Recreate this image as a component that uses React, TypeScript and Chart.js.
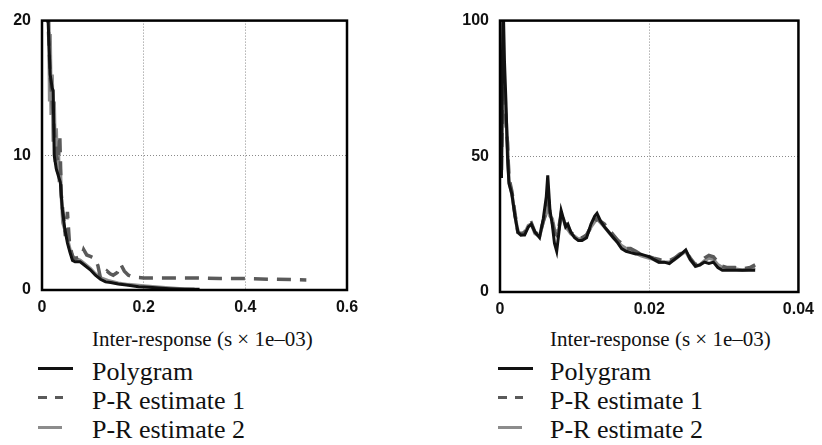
import React, { useEffect, useRef } from "react";
import { Chart, registerables } from "chart.js";

Chart.register(...registerables);

// ---------- Left panel data ----------
const LEFT_X_TICKS = [0, 0.2, 0.4, 0.6];
const LEFT_Y_TICKS = [0, 10, 20];

const LEFT_POLY_X = [0.009, 0.012, 0.016, 0.02, 0.022, 0.024, 0.028, 0.032, 0.036, 0.04, 0.045, 0.05, 0.055, 0.06, 0.065, 0.075, 0.085, 0.095, 0.105, 0.115, 0.125, 0.135, 0.15, 0.17, 0.19, 0.21, 0.23, 0.25, 0.28, 0.31];
const LEFT_POLY_Y = [24, 20, 16, 15, 14.8, 10, 9, 8.5, 8, 6, 4.5, 3.5, 2.8, 2.2, 2.1, 2.1, 1.8, 1.5, 1.1, 0.8, 0.6, 0.55, 0.45, 0.35, 0.25, 0.2, 0.15, 0.1, 0.05, 0.05];

const LEFT_PR1_X = [0.008, 0.012, 0.016, 0.02, 0.024, 0.028, 0.032, 0.035, 0.038, 0.042, 0.046, 0.05, 0.054, 0.058, 0.062, 0.07, 0.078, 0.082, 0.088, 0.095, 0.105, 0.11, 0.115, 0.122, 0.128, 0.134, 0.14, 0.148, 0.155, 0.162, 0.17, 0.18, 0.2, 0.25, 0.3, 0.35, 0.4, 0.45, 0.52];
const LEFT_PR1_Y = [26, 20, 16, 14, 12, 10, 9.5, 11.5, 7, 5.5, 4, 5.8, 3.5, 2.8, 2.3, 2.4, 2.5, 3, 2.6, 2.5, 2.3, 1.8, 0.9, 1.1, 1.4, 1.2, 1.1, 1.3, 1.9, 1.4, 1.1, 0.95, 0.9, 0.9, 0.9, 0.85, 0.85, 0.8, 0.75];

const LEFT_PR2_X = [0.01, 0.012, 0.013, 0.015, 0.016, 0.018, 0.02, 0.022, 0.024, 0.026, 0.028, 0.03, 0.032, 0.034, 0.036, 0.038, 0.041, 0.045, 0.05, 0.055, 0.06, 0.067, 0.075, 0.085, 0.095, 0.105, 0.115, 0.13, 0.15, 0.17, 0.2, 0.23, 0.27, 0.3];
const LEFT_PR2_Y = [25, 20, 22, 14, 19, 13, 16, 11, 14, 9.5, 12, 8.8, 10.5, 8, 9, 7, 5, 4.5, 3.8, 3, 2.5, 2.3, 2.2, 1.9, 1.6, 1.2, 0.9, 0.7, 0.5, 0.4, 0.3, 0.2, 0.1, 0.05];

// ---------- Right panel data ----------
const RIGHT_X_TICKS = [0, 0.02, 0.04];
const RIGHT_Y_TICKS = [0, 50, 100];

const RIGHT_X = [0.0002, 0.0004, 0.0006, 0.0008, 0.001, 0.0012, 0.0016, 0.002, 0.0024, 0.0028, 0.0033, 0.0038, 0.0042, 0.0047, 0.0053, 0.0058, 0.0062, 0.0064, 0.0067, 0.007, 0.0073, 0.0076, 0.0079, 0.0082, 0.0085, 0.0088, 0.0091, 0.0095, 0.01, 0.0105, 0.011, 0.0116, 0.0122, 0.0127, 0.013, 0.0135, 0.014, 0.0146, 0.0152, 0.0158, 0.0163, 0.0169, 0.0175, 0.0182, 0.0188, 0.0194, 0.02, 0.0206, 0.0213, 0.022, 0.0227, 0.0234, 0.0241, 0.0249, 0.0255, 0.0262, 0.0268, 0.0274, 0.028, 0.0286, 0.0292, 0.0298, 0.0305, 0.0315, 0.0325, 0.0335, 0.0342];
const RIGHT_POLY_Y = [42, 110, 85, 70, 50, 40, 36, 28, 22, 21, 21, 24, 25, 22, 20, 27, 35, 43, 30, 25, 18, 15, 22, 30, 27, 24, 25, 22, 20, 19, 19, 20, 25, 28, 29, 26, 24, 22, 20, 18, 16, 15, 14.5, 14, 14, 13.5, 13, 12, 11, 11, 10.5, 12, 13.5, 15.5, 12, 9.5, 10, 11, 10.5, 11, 9, 8, 8, 8, 8, 8, 8];
const RIGHT_PR1_Y = [45, 85, 75, 62, 55, 42, 37, 29, 22, 21.5, 22, 25, 25.5, 22, 21, 26, 30, 37, 28, 26, 22, 21, 24, 29, 27, 25, 24, 22, 21, 20, 20, 21, 24, 26, 27, 26, 25, 23, 21, 19, 18, 16, 16, 15, 14, 13, 13, 12.5, 12, 11.5, 11.5, 12.5, 14, 15, 12.5, 10, 11, 12.5, 13.5, 13, 11, 9.5, 9, 9, 8.5, 9, 10];
const RIGHT_PR2_Y = [50, 80, 72, 65, 55, 41, 36, 28.5, 22, 21, 21.5, 24.5, 25, 21.5, 20.5, 26, 29, 36, 28, 27, 23, 22, 23, 28, 27, 24, 23, 21.5, 20.5, 19.5, 19.5, 21, 24, 26, 27, 25.5, 24, 22, 20, 18.5, 17, 16, 15.5, 14.5, 13.5, 13, 12.5, 12, 11, 11, 11, 12, 13.5, 15, 12, 9.5, 10, 11.5, 12.5, 12, 10, 9, 8.5, 8.5, 8, 8.5, 9];

const SERIES_NAMES = ["Polygram", "P-R estimate 1", "P-R estimate 2"];
const AXIS_TITLE = "Inter-response (s \u00d7 1e\u201303)";

const COLOR_POLY = "#111111";
const COLOR_PR1 = "#5a5a5a";
const COLOR_PR2 = "#8c8c8c";

const pts = (xs: number[], ys: number[]) => xs.map((x, i) => ({ x, y: ys[i] }));

const boxPlugin = {
  id: "boxBorder",
  afterDraw(chart: any) {
    const { ctx, chartArea } = chart;
    ctx.save();
    ctx.strokeStyle = "#000";
    ctx.lineWidth = 2.5;
    ctx.strokeRect(chartArea.left, chartArea.top, chartArea.right - chartArea.left, chartArea.bottom - chartArea.top);
    ctx.restore();
  },
};

type PanelProps = {
  left: number;
  width: number;
  height: number;
  yWidth: number;
  xHeight: number;
  padRight: number;
  xTicks: number[];
  yTicks: number[];
  datasets: any[];
};

function Panel(p: PanelProps) {
  const ref = useRef<HTMLCanvasElement | null>(null);
  useEffect(() => {
    if (!ref.current) return;
    const xMin = p.xTicks[0], xMax = p.xTicks[p.xTicks.length - 1];
    const yMin = p.yTicks[0], yMax = p.yTicks[p.yTicks.length - 1];
    const tickFont = { family: "'Liberation Sans', Arial, sans-serif", size: 16, weight: "bold" as const };
    const gridColor = (lo: number, hi: number) => (c: any) =>
      c.tick && (c.tick.value === lo || c.tick.value === hi) ? "rgba(0,0,0,0)" : "#8a8a8a";
    const chart = new Chart(ref.current, {
      type: "line",
      data: { datasets: p.datasets },
      options: {
        animation: false,
        responsive: false,
        maintainAspectRatio: false,
        layout: { padding: { left: 0, top: 16, right: p.padRight, bottom: 0 } },
        plugins: { legend: { display: false }, tooltip: { enabled: false } },
        elements: { point: { radius: 0 }, line: { tension: 0 } },
        scales: {
          x: {
            type: "linear",
            min: xMin,
            max: xMax,
            afterBuildTicks: (s: any) => { s.ticks = p.xTicks.map((v) => ({ value: v })); },
            afterFit: (s: any) => { s.height = p.xHeight; },
            ticks: { font: tickFont, color: "#111", padding: 8, maxRotation: 0 },
            grid: { drawTicks: false, color: gridColor(xMin, xMax), lineWidth: 1 },
            border: { display: false, dash: [1, 2] },
          },
          y: {
            type: "linear",
            min: yMin,
            max: yMax,
            afterBuildTicks: (s: any) => { s.ticks = p.yTicks.map((v) => ({ value: v })); },
            afterFit: (s: any) => { s.width = p.yWidth; },
            ticks: { font: tickFont, color: "#111", padding: 11 },
            grid: { drawTicks: false, color: gridColor(yMin, yMax), lineWidth: 1 },
            border: { display: false, dash: [1, 2] },
          },
        },
      },
      plugins: [boxPlugin],
    });
    return () => chart.destroy();
  }, []);
  return (
    <canvas
      ref={ref}
      width={p.width}
      height={p.height}
      style={{ position: "absolute", left: p.left, top: 0, width: p.width, height: p.height }}
    />
  );
}

function makeDatasets(polyX: number[], polyY: number[], pr1X: number[], pr1Y: number[], pr2X: number[], pr2Y: number[]) {
  return [
    { label: SERIES_NAMES[0], data: pts(polyX, polyY), borderColor: COLOR_POLY, borderWidth: 3, order: 0, fill: false },
    { label: SERIES_NAMES[1], data: pts(pr1X, pr1Y), borderColor: COLOR_PR1, borderWidth: 3.5, borderDash: [14, 9], order: 1, fill: false },
    { label: SERIES_NAMES[2], data: pts(pr2X, pr2Y), borderColor: COLOR_PR2, borderWidth: 3.5, order: 2, fill: false },
  ];
}

function Legend({ textLeft, sampleLeft }: { textLeft: number; sampleLeft: number }) {
  const textStyle: React.CSSProperties = {
    position: "absolute",
    left: textLeft,
    fontFamily: "'Liberation Serif', 'Times New Roman', serif",
    fontSize: 26,
    lineHeight: "29px",
    color: "#111",
    whiteSpace: "nowrap",
  };
  const bar = (l: number, t: number, w: number, c: string) => (
    <div style={{ position: "absolute", left: l, top: t, width: w, height: 3, background: c }} />
  );
  return (
    <>
      <div
        style={{
          position: "absolute",
          left: textLeft,
          top: 329,
          fontFamily: "'Liberation Serif', 'Times New Roman', serif",
          fontSize: 21,
          lineHeight: "21px",
          color: "#111",
          whiteSpace: "nowrap",
        }}
      >
        {AXIS_TITLE}
      </div>
      <div style={{ ...textStyle, top: 357 }}>{SERIES_NAMES[0]}</div>
      <div style={{ ...textStyle, top: 386 }}>{SERIES_NAMES[1]}</div>
      <div style={{ ...textStyle, top: 415 }}>{SERIES_NAMES[2]}</div>
      {bar(sampleLeft, 367, 35, COLOR_POLY)}
      {bar(sampleLeft, 396, 9, COLOR_PR1)}
      {bar(sampleLeft + 17, 396, 8, COLOR_PR1)}
      {bar(sampleLeft, 426, 24, COLOR_PR2)}
    </>
  );
}

export default function App() {
  const leftSets = makeDatasets(LEFT_POLY_X, LEFT_POLY_Y, LEFT_PR1_X, LEFT_PR1_Y, LEFT_PR2_X, LEFT_PR2_Y);
  const rightSets = makeDatasets(RIGHT_X, RIGHT_POLY_Y, RIGHT_X, RIGHT_PR1_Y, RIGHT_X, RIGHT_PR2_Y);
  return (
    <div style={{ position: "fixed", left: 0, top: 0, width: 822, height: 445, background: "#fff", overflow: "hidden" }}>
      <Panel left={0} width={411} height={320} yWidth={42} xHeight={30} padRight={64} xTicks={LEFT_X_TICKS} yTicks={LEFT_Y_TICKS} datasets={leftSets} />
      <Panel left={411} width={411} height={320} yWidth={89} xHeight={28} padRight={22} xTicks={RIGHT_X_TICKS} yTicks={RIGHT_Y_TICKS} datasets={rightSets} />
      <Legend textLeft={92} sampleLeft={38} />
      <Legend textLeft={550} sampleLeft={498} />
    </div>
  );
}
